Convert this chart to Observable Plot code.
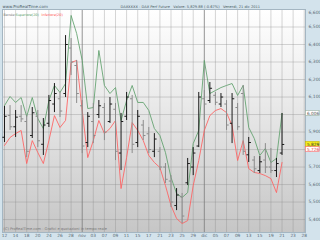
<!DOCTYPE html>
<html><head><meta charset="utf-8">
<script src="https://cdn.jsdelivr.net/npm/d3@7"></script>
<script src="https://cdn.jsdelivr.net/npm/@observablehq/plot@0.6"></script>
<style>
body{margin:0;background:#d3e3ec;}
#wrap{position:relative;width:320px;height:240px;overflow:hidden;font-family:"DejaVu Sans",sans-serif;}
#bg{position:absolute;left:2px;top:9px;width:303px;height:223px;background:linear-gradient(#ffffff 0%,#ececec 38%,#c6c6c6 100%);}
#wrap svg{position:absolute;left:0;top:0;background:transparent;}
</style></head>
<body><div id="wrap"><div id="bg"></div></div>
<script>
// trading-day labels (index = bar slot), last four are empty future slots
const days = ["12","13","14","17","18","19","20","21","24","25","26","27","28","31",
  "nov","02","03","04","07","08","09","10","11","14","15","16","17","18","21","22","23","24","25","28","29","30",
  "dic","02","05","06","07","08","09","12","13","14","15","16","19","20","21",
  "22","23","27","28"];
const highs  = [6046,6051,6023,6051,5994,6040,6023,5977,6109,6177,6126,6451,6434,6309,6080,6011,6063,6080,6063,6097,6063,6006,6126,6109,6023,5966,5926,5891,5811,5720,5651,5577,5549,5749,5811,6126,6137,6183,6126,6120,6080,6120,6063,6166,5869,5760,5760,5834,5806,5749,6006];
const lows   = [5840,5909,5869,5954,5754,5863,5811,5766,5926,6011,5983,6097,6223,6063,5777,5811,5834,5977,5851,5949,5737,5680,5966,5777,5811,5851,5777,5754,5680,5606,5469,5451,5377,5594,5651,5811,5966,6063,6051,6040,5909,5834,5909,5766,5726,5663,5663,5663,5663,5640,5766];
const opens  = [5870,5995,5930,5990,5960,5880,5990,5830,5950,6060,6090,6120,6380,6280,6050,5840,5960,6000,6040,5960,6030,5780,5990,6090,5840,5940,5890,5790,5790,5700,5620,5480,5530,5610,5700,5820,6090,6080,6110,6060,6060,5950,6040,6120,5770,5740,5680,5740,5700,5680,5780];
const closes = [5990,5930,5985,5975,5790,6010,5850,5940,6080,6120,6020,6400,6300,6120,5820,5990,5880,6050,5900,6060,5790,5960,6100,5830,5990,5880,5800,5860,5700,5630,5500,5540,5420,5720,5780,6100,6060,6150,6070,6100,5940,6090,5930,5790,5840,5690,5730,5700,5680,5720,5829];
const upperBand = [6051,6103,6069,6097,5989,6097,5977,5920,6080,6166,6126,6177,6566,6463,6309,6034,6040,6366,6166,6120,6154,5966,6080,6166,6069,6069,6023,5920,5880,5783,5640,5549,5526,5554,5834,5909,6309,6120,6137,6154,6166,6177,6109,6166,5926,5863,5766,5806,5726,5749,6006];
const lowerBand = [5823,5869,5891,5909,5720,5851,5783,5720,5851,5994,5926,5966,6297,6309,6023,5754,5851,5966,5891,5920,5966,5577,5754,5954,5909,5851,5766,5726,5697,5594,5480,5406,5377,5394,5594,5737,5909,5994,6023,6034,6011,5937,5737,5851,5691,5669,5663,5651,5634,5554,5726];
const yTicks = [5400,5500,5600,5700,5800,5900,6000,6100,6200,6300,6400,6500,6600];
const headerLeft = "www.ProRealTime.com";
const headerMid = "DAXXXXX - DAX Perf Future   Valore: 5,829.88 (-0.67%)   Venerdì, 21 dic 2011";
const legendParts = ["Bande:", "Superiore(20)", "Inferiore(20)"];
const footer = "(C) ProRealTime.com - Grafici e quotazioni in tempo reale";

const bars = highs.map((h, i) => ({i, high: h, low: lows[i], open: opens[i], close: closes[i], upper: upperBand[i], lower: lowerBand[i]}));
const xTicks = d3.range(0, days.length, 2);
const monthTicks = xTicks.filter(i => days[i] === "nov" || days[i] === "dic");
const last = bars[bars.length - 1];
const fmt = d3.format(",.0f");
const X1 = 54.23;
const boxes = [
  {pos: last.upper, label: fmt(last.upper), fill: "#ffffff", stroke: "#9ab0a0", tc: "#555"},
  {pos: last.close, label: fmt(last.close), fill: "#f5ec1a", stroke: "#c8b800", tc: "#333"},
  {pos: last.close - 29, label: fmt(last.lower), fill: "#ffffff", stroke: "#ff6a6a", tc: "#e04040"}
];
const hiddenTicks = yTicks.filter(t => t === 6600 || boxes.some(b => Math.abs(t - b.pos) < 25));

const barColor = d => d.close >= d.open ? "#1a1a1a" : "#8c8c8c";
const chart = Plot.plot({
  width: 320, height: 240,
  marginTop: 9, marginBottom: 8, marginLeft: 2, marginRight: 15,
  x: {type: "linear", domain: [-0.36, X1], axis: null},
  y: {domain: [5326, 6600], axis: null},
  style: {background: "transparent", fontFamily: "DejaVu Sans, sans-serif", overflow: "visible"},
  marks: [
    Plot.ruleY(yTicks, {stroke: "#8a8a8a", strokeOpacity: 0.35}),
    Plot.ruleX(xTicks.filter(i => !monthTicks.includes(i)), {stroke: "#8a8a8a", strokeOpacity: 0.35}),
    Plot.ruleX(monthTicks, {stroke: "#7a7a7a", strokeOpacity: 0.8}),
    Plot.frame({stroke: "#a4b6c2"}),
    Plot.line(bars, {x: "i", y: "upper", stroke: "#5f9f6c", strokeWidth: 0.85}),
    Plot.line(bars, {x: "i", y: "lower", stroke: "#ff6060", strokeWidth: 0.85}),
    Plot.ruleX(bars, {x: "i", y1: "low", y2: "high", stroke: barColor, strokeWidth: 1}),
    Plot.link(bars, {x1: d => d.i - 0.4, x2: "i", y1: "open", y2: "open", stroke: barColor, strokeWidth: 1}),
    Plot.link(bars, {x1: "i", x2: d => d.i + 0.4, y1: "close", y2: "close", stroke: barColor, strokeWidth: 1}),
    // right axis labels
    Plot.text(yTicks.filter(t => !hiddenTicks.includes(t)), {x: X1, y: d => d, dx: 3, text: d => fmt(d), textAnchor: "start", fontSize: 4.5, fill: "#5a6a74"}),
    Plot.text([6600], {x: X1, y: d => d, dx: 3, dy: 3, text: d => fmt(d), textAnchor: "start", fontSize: 4.5, fill: "#5a6a74"}),
    // value boxes
    Plot.rect(boxes, {x1: X1 + 0.1, x2: X1 + 2.55, y1: d => d.pos - 14, y2: d => d.pos + 14, fill: "fill", stroke: "stroke", strokeWidth: 0.6}),
    Plot.text(boxes, {x: X1 + 0.25, y: "pos", text: "label", textAnchor: "start", fontSize: 4.3, fill: "tc"}),
    // bottom axis labels
    Plot.text(xTicks, {x: d => d, frameAnchor: "bottom", dy: 4.5, text: d => days[d], fontSize: 4.3, fill: "#5a6a74"}),
    // header
    Plot.text([headerLeft], {frameAnchor: "top-left", dx: 0, dy: -4.5, text: d => d, fontSize: 4, fill: "#4a5a64"}),
    Plot.text([headerMid], {frameAnchor: "top-left", dx: 118, dy: -4.5, text: d => d, fontSize: 3.6, fill: "#4a5a64"}),
    // legend
    Plot.text([legendParts[0]], {frameAnchor: "top-left", dx: 1, dy: 4, text: d => d, fontSize: 3.4, fill: "#777"}),
    Plot.text([legendParts[1]], {frameAnchor: "top-left", dx: 13, dy: 4, text: d => d, fontSize: 3.4, fill: "#4f9a5f"}),
    Plot.text([legendParts[2]], {frameAnchor: "top-left", dx: 39, dy: 4, text: d => d, fontSize: 3.4, fill: "#ff4a4a"}),
    // footer
    Plot.text([footer], {frameAnchor: "bottom-left", dx: 1, dy: -3, text: d => d, fontSize: 3.6, fill: "#777"})
  ]
});
document.getElementById("wrap").appendChild(chart);
</script>
</body></html>
